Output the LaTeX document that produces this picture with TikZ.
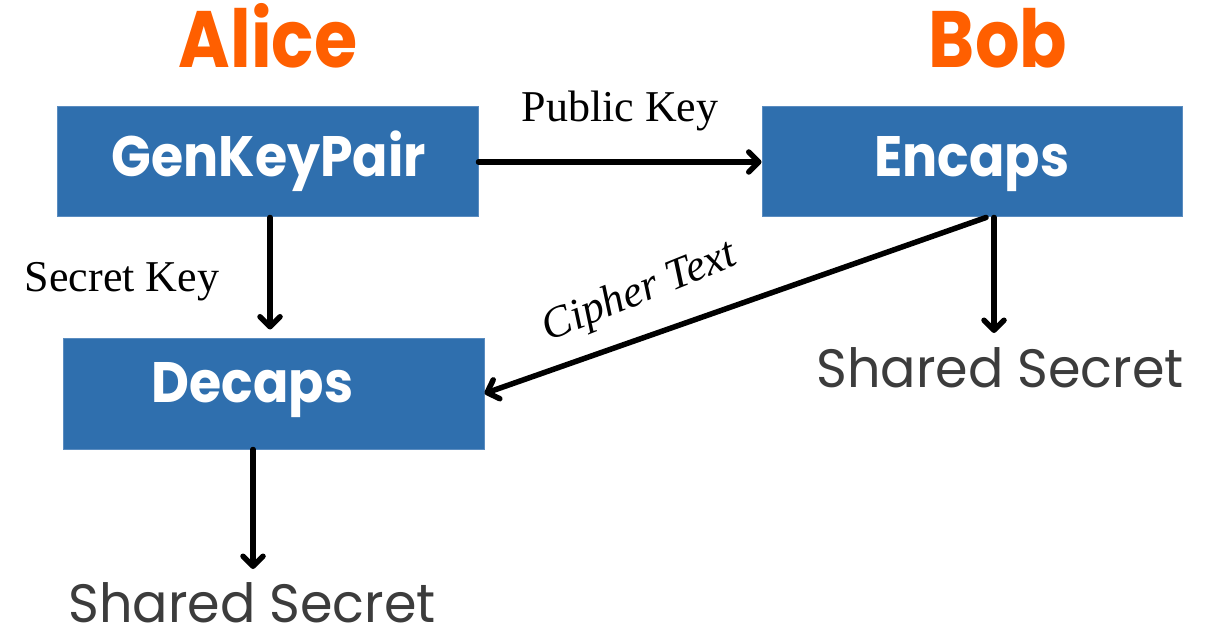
\documentclass[tikz,border=0pt]{standalone}
\usepackage{fontspec}
\usepackage{graphicx}
\setmainfont{Liberation Serif}
\newfontfamily\popfont{Poppins}
\usetikzlibrary{arrows.meta}
\definecolor{boxblue}{HTML}{2F6FAE}
\definecolor{boxedge}{HTML}{5A8CC0}
\definecolor{partyorange}{HTML}{FF5F00}
\definecolor{outgrey}{HTML}{3C3C3C}
\newcommand{\narrow}[2]{\scalebox{#1}[1]{#2}}
\tikzset{
  party/.style={font=\popfont\bfseries\fontsize{80}{90}\selectfont, text=partyorange, anchor=base, inner sep=0pt},
  opbox/.style={draw=boxedge, line width=1pt, fill=boxblue, inner sep=0pt},
  oplabel/.style={font=\popfont\bfseries\fontsize{57}{64}\selectfont, text=white, anchor=base, inner sep=0pt},
  outtext/.style={font=\popfont\fontsize{54}{60}\selectfont, text=outgrey, anchor=base, inner sep=0pt},
  flowlabel/.style={font=\fontsize{44}{50}\selectfont, text=black, inner sep=0pt},
  flow/.style={line width=5.5pt, line cap=round, line join=round,
    -{Straight Barb[length=10pt, width=20pt, line cap=round, line join=round]}},
}
\begin{document}
\begin{tikzpicture}[x=1pt, y=-1pt]
  \useasboundingbox (0,0) rectangle (1211,639);

  % party headings
  \node[party] (alice) at (268,68) {\narrow{0.875}{Alice}};
  \node[party] (bob) at (998,68) {\narrow{0.875}{Bob}};

  % operation boxes and their labels
  \node[opbox, minimum width=421pt, minimum height=110pt] (gen) at (267.5,162) {};
  \node[opbox, minimum width=420pt, minimum height=110pt] (enc) at (972,162) {};
  \node[opbox, minimum width=421pt, minimum height=111pt] (dec) at (273.5,393.5) {};
  \node[oplabel] (genlabel) at (269,177) {\narrow{0.915}{GenKeyPair}};
  \node[oplabel] (enclabel) at (972,177) {\narrow{0.915}{Encaps}};
  \node[oplabel] (declabel) at (252.5,402) {\narrow{0.915}{Decaps}};

  % outputs
  \node[outtext] (ssbob) at (1000,387) {\narrow{0.97}{Shared Secret}};
  \node[outtext] (ssalice) at (252,622) {\narrow{0.97}{Shared Secret}};
  \coordinate (ssbobtip) at (994,333);
  \coordinate (ssalicetip) at (253,569);

  % key and ciphertext flows
  \draw[flow] (gen.east) -- (enc.west);
  \node[flowlabel, anchor=base] (pk) at (620,122) {Public Key};
  \draw[flow, shorten >=8pt] ([xshift=2.5pt]gen.south) -- ([xshift=-3.5pt]dec.north);
  \node[flowlabel, anchor=base] (sk) at (122,292) {Secret Key};
  \draw[flow] ([xshift=14pt]enc.south) -- (dec.east);
  \node[flowlabel, font=\itshape\fontsize{44}{50}\selectfont, rotate=22] (ct) at (640,293) {Cipher Text};

  % shared secret outputs
  \draw[flow] ([xshift=22pt]enc.south) -- (ssbobtip);
  \draw[flow] ([xshift=-20.5pt]dec.south) -- (ssalicetip);
\end{tikzpicture}
\end{document}
